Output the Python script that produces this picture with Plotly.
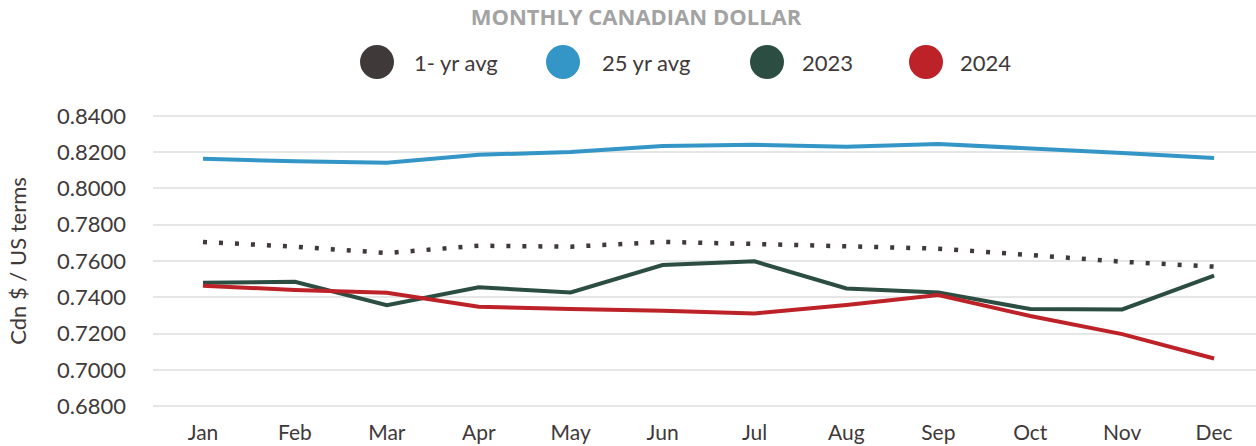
import plotly.graph_objects as go

months = ["Jan", "Feb", "Mar", "Apr", "May", "Jun", "Jul", "Aug", "Sep", "Oct", "Nov", "Dec"]
avg_1yr = [0.7705, 0.7679, 0.7644, 0.7684, 0.7679, 0.7705, 0.7694, 0.7684, 0.7668, 0.7633, 0.7596, 0.7569]
avg_25yr = [0.8163, 0.8149, 0.8141, 0.8185, 0.8201, 0.8234, 0.8240, 0.8229, 0.8245, 0.8222, 0.8195, 0.8168]
y2023 = [0.7480, 0.7486, 0.7357, 0.7455, 0.7427, 0.7578, 0.7598, 0.7449, 0.7427, 0.7335, 0.7333, 0.7519]
y2024 = [0.7464, 0.7440, 0.7425, 0.7348, 0.7335, 0.7326, 0.7311, 0.7357, 0.7412, 0.7297, 0.7197, 0.7063]

series_names = ["1- yr avg", "25 yr avg", "2023", "2024"]
colors = ["#3F393A", "#3396C6", "#2C4E42", "#BD2228"]
title_text = "MONTHLY CANADIAN DOLLAR"
y_title = "Cdn $ / US terms"
y_ticks = [0.68, 0.70, 0.72, 0.74, 0.76, 0.78, 0.80, 0.82, 0.84]

FONT = "Lato, 'Open Sans', sans-serif"
TXT = "#3F393A"

fig = go.Figure()
fig.add_trace(go.Scatter(x=months, y=avg_1yr, mode="lines", name=series_names[0],
                         line=dict(color=colors[0], width=4.5, dash="4px,12px")))
fig.add_trace(go.Scatter(x=months, y=avg_25yr, mode="lines", name=series_names[1],
                         line=dict(color=colors[1], width=4)))
fig.add_trace(go.Scatter(x=months, y=y2023, mode="lines", name=series_names[2],
                         line=dict(color=colors[2], width=4)))
fig.add_trace(go.Scatter(x=months, y=y2024, mode="lines", name=series_names[3],
                         line=dict(color=colors[3], width=4)))

# manual legend (large circles)
L, R, T, B = 153, 0, 114, 38
W, H = 1256, 446
pw, ph = W - L - R, H - T - B
def px_x(p):
    return (p - L) / pw
def px_y(p):
    return (H - B - p) / ph

circle_px = [377, 563, 767, 926]
text_px = [412, 600, 800, 958]
legend_y = 62
shapes = []
annotations = []
for name, col, cx, tx in zip(series_names, colors, circle_px, text_px):
    shapes.append(dict(type="circle", xref="paper", yref="paper",
                       xsizemode="pixel", ysizemode="pixel",
                       xanchor=px_x(cx), yanchor=px_y(legend_y),
                       x0=-17, x1=17, y0=-17, y1=17,
                       fillcolor=col, line=dict(width=0)))
    annotations.append(dict(text=name, xref="paper", yref="paper",
                            x=px_x(tx), y=px_y(legend_y), xanchor="left", yanchor="middle",
                            showarrow=False, font=dict(family=FONT, size=22, color=TXT)))

fig.update_layout(
    width=W, height=H,
    margin=dict(l=L, r=R, t=T, b=B),
    paper_bgcolor="white", plot_bgcolor="white",
    showlegend=False,
    title=dict(text="<b>" + title_text + "</b>", xref="container", yref="container",
               x=636 / W, y=1 - 17 / H, xanchor="center", yanchor="middle",
               font=dict(family="'Open Sans', 'Liberation Sans', sans-serif",
                         size=22, color="#A3A3A3")),
    shapes=shapes,
    annotations=annotations,
    xaxis=dict(type="category", range=[-0.544, 11.456], showgrid=False, zeroline=False,
               showline=False, ticks="", tickfont=dict(family=FONT, size=21, color=TXT),
               ticklabelstandoff=10),
    yaxis=dict(range=[0.679, 0.841], tickvals=y_ticks, tickformat=".4f",
               showgrid=True, gridcolor="#E6E6E6", gridwidth=2, zeroline=False,
               showline=False, ticks="", ticklabelstandoff=26,
               tickfont=dict(family=FONT, size=22, color=TXT),
               title=dict(text=y_title, font=dict(family=FONT, size=22, color=TXT), standoff=24)),
)

fig.write_html("out.html", config={"displayModeBar": False},
               post_script="document.body.style.margin='0';")
